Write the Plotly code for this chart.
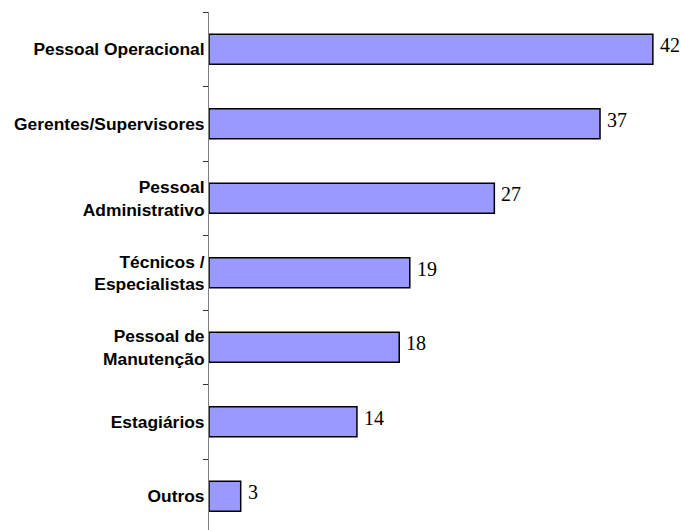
import plotly.graph_objects as go

categories = ["Outros", "Estagiários", "Pessoal de<br>Manutenção", "Técnicos /<br>Especialistas",
              "Pessoal<br>Administrativo", "Gerentes/Supervisores", "Pessoal Operacional"]
values = [3, 14, 18, 19, 27, 37, 42]

fig = go.Figure()
fig.add_trace(go.Bar(
    x=values, y=categories, orientation="h",
    marker=dict(color="#9999FF", line=dict(color="#000000", width=1.5)),
    width=0.4, hoverinfo="skip",
))

for c, v in zip(categories, values):
    fig.add_annotation(x=v, y=c, text=str(v), showarrow=False, xanchor="left",
                       xshift=5, yshift=4,
                       font=dict(family="Liberation Serif, Times New Roman, serif", size=20, color="#000000"))

fig.update_layout(
    width=681, height=530,
    margin=dict(l=209, r=7, t=12, b=0),
    paper_bgcolor="white", plot_bgcolor="white",
    showlegend=False,
    xaxis=dict(range=[0, 44], visible=False),
    yaxis=dict(
        type="category", range=[-0.453, 6.5], automargin=False,
        showline=True, linecolor="#808080", linewidth=1,
        ticks="outside", ticklen=5, tickcolor="#333333", tickwidth=1,
        tickson="boundaries", showgrid=False,
        tickfont=dict(family="Liberation Sans, Arial, sans-serif", size=17.4, color="#000000", weight="bold"),
    ),
)

fig.write_html("out.html", config={"displayModeBar": False},
               post_script="document.body.style.margin='0';document.body.style.overflow='hidden';")
